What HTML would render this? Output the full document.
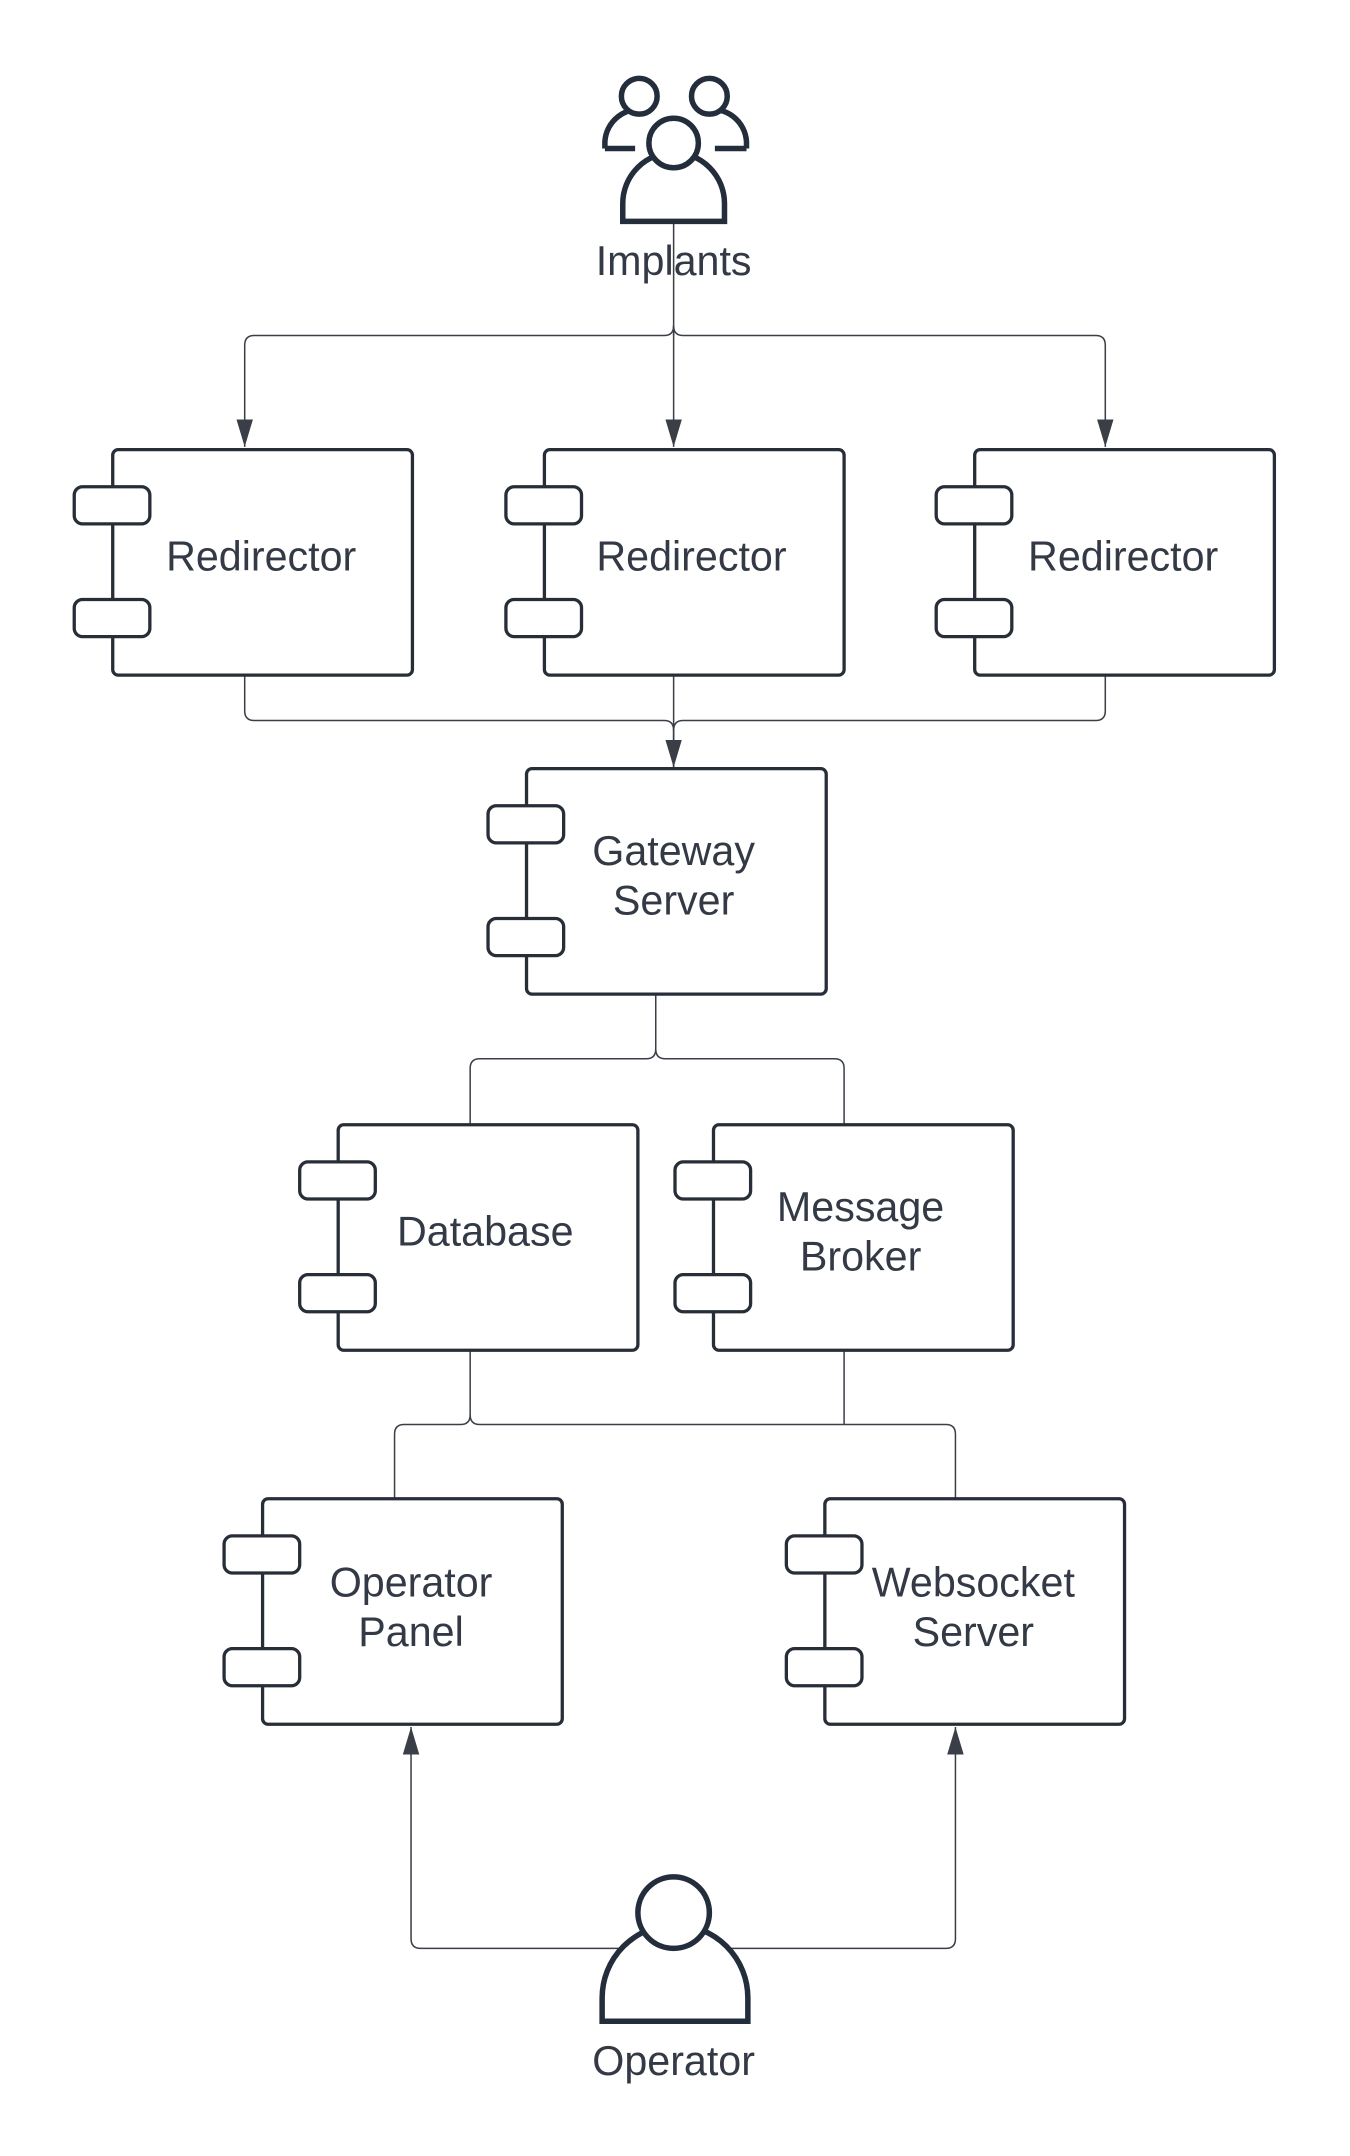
<!DOCTYPE html>
<html><head><meta charset="utf-8"><style>
html,body{margin:0;padding:0;background:#fff}
svg{display:block}
text{font-family:"Liberation Sans",sans-serif;font-size:30px;fill:#333a45;text-anchor:middle}
</style></head><body>
<svg width="1350" height="2156" viewBox="0 0 982 1568" preserveAspectRatio="none" xmlns="http://www.w3.org/2000/svg">
<defs>
<marker id="a" markerWidth="22" markerHeight="14" refX="20" refY="6" orient="auto" markerUnits="userSpaceOnUse">
<path d="M0,0 L20,6 L0,12 Z" fill="#3a3f47"/></marker>
<g id="comp">
<rect x="28" y="0" width="218" height="164" rx="4" fill="#fff" stroke="#282e38" stroke-width="2.4"/>
<rect x="0" y="27" width="55" height="27" rx="6" fill="#fff" stroke="#282e38" stroke-width="2.4"/>
<rect x="0" y="109" width="55" height="27" rx="6" fill="#fff" stroke="#282e38" stroke-width="2.4"/>
</g>
</defs>
<g fill="none" stroke="#3a3f47" stroke-width="1.1">
<path d="M490 162 V244"/>
<path d="M490 237 Q490 244 483 244 H185 Q178 244 178 251 V325" marker-end="url(#a)"/>
<path d="M490 237 V325" marker-end="url(#a)"/>
<path d="M490 237 Q490 244 497 244 H797 Q804 244 804 251 V325" marker-end="url(#a)"/>
<path d="M178 491 V517 Q178 524 185 524 H483 Q490 524 490 531 V558" marker-end="url(#a)"/>
<path d="M490 491 V558"/>
<path d="M804 491 V517 Q804 524 797 524 H497 Q490 524 490 531"/>
<path d="M477 722 V763 Q477 770 470 770 H349 Q342 770 342 777 V818"/>
<path d="M477 763 Q477 770 484 770 H607 Q614 770 614 777 V818"/>
<path d="M342 981 V1029 Q342 1036 335 1036 H294 Q287 1036 287 1043 V1090"/>
<path d="M342 1029 Q342 1036 349 1036 H688 Q695 1036 695 1043 V1090"/>
<path d="M614 981 V1036"/>
<path d="M490 1417 H306 Q299 1417 299 1410 V1256" marker-end="url(#a)"/>
<path d="M490 1417 H688 Q695 1417 695 1410 V1256" marker-end="url(#a)"/>
</g>
<use href="#comp" x="54" y="327"/>
<use href="#comp" x="368" y="327"/>
<use href="#comp" x="681" y="327"/>
<use href="#comp" x="355" y="559"/>
<use href="#comp" x="218" y="818"/>
<use href="#comp" x="491" y="818"/>
<use href="#comp" x="163" y="1090"/>
<use href="#comp" x="572" y="1090"/>
<text x="190" y="415">Redirector</text>
<text x="503" y="415">Redirector</text>
<text x="817" y="415">Redirector</text>
<text x="490" y="629">Gateway</text>
<text x="490" y="665">Server</text>
<text x="353" y="906">Database</text>
<text x="626" y="888">Message</text>
<text x="626" y="924">Broker</text>
<text x="299" y="1161">Operator</text>
<text x="299" y="1197">Panel</text>
<text x="708" y="1161">Websocket</text>
<text x="708" y="1197">Server</text>
<g fill="#fff" stroke="#232d3b" stroke-width="4">
<path d="M440 108 V103 A25 25 0 0 1 470 80"/>
<circle cx="465" cy="70" r="13"/>
<path d="M543 108 V103 A25 25 0 0 0 513 80"/>
<circle cx="516" cy="70" r="13"/>
<path d="M440 108 H462 M543 108 H520" />
<path d="M453 161 V148 A37 37 0 0 1 527 148 V161 Z"/>
<circle cx="490" cy="104" r="18"/>
<path d="M438 1470 V1453 A52 52 0 0 1 544 1453 V1470 Z"/>
<circle cx="490" cy="1391" r="26"/>
</g>
<text x="490" y="200">Implants</text>
<text x="490" y="1509">Operator</text>
</svg>
</body></html>
